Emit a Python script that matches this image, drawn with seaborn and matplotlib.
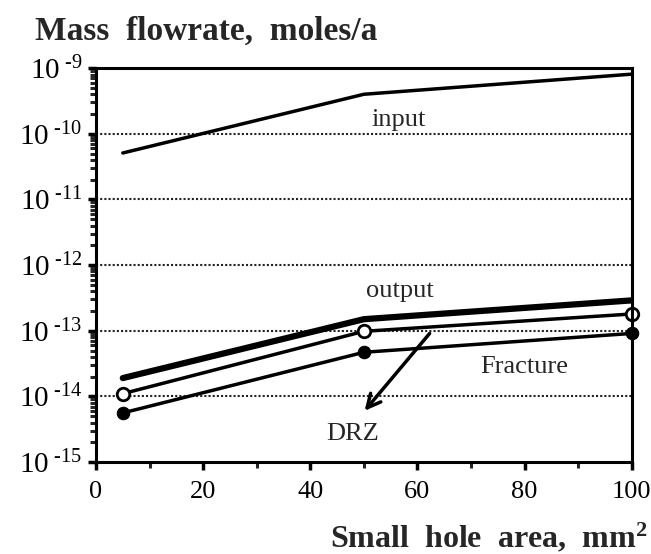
import math
import matplotlib
matplotlib.use("Agg")
import matplotlib.pyplot as plt
import matplotlib.ticker as mticker
import seaborn as sns
import pandas as pd

hole_area = [5, 50, 100]
input_flow = [5.1e-11, 4.0e-10, 8.1e-10]
output_flow = [1.9e-14, 1.5e-13, 2.9e-13]
drz_flow = [1.1e-14, 9.8e-14, 1.8e-13]
fracture_flow = [5.6e-15, 4.7e-14, 9.1e-14]

sns.set_style("ticks")
plt.rcParams['font.family'] = ['Liberation Serif', 'DejaVu Serif']
plt.rcParams['mathtext.fontset'] = 'custom'
plt.rcParams['mathtext.rm'] = 'Liberation Serif'
plt.rcParams['mathtext.it'] = 'Liberation Serif:italic'
plt.rcParams['mathtext.bf'] = 'Liberation Serif:bold'

df = pd.DataFrame({"area": hole_area, "input": input_flow, "output": output_flow,
                   "DRZ": drz_flow, "Fracture": fracture_flow})

fig = plt.figure(figsize=(6.51, 5.54), dpi=100)
ax = fig.add_axes([0.1475, 0.166, 0.823, 0.711])

sns.lineplot(data=df, x="area", y="input", ax=ax, color="black", lw=2.5)
sns.lineplot(data=df, x="area", y="output", ax=ax, color="black", lw=4.5)
sns.lineplot(data=df, x="area", y="DRZ", ax=ax, color="black", lw=2.5,
             marker="o", markersize=9, markerfacecolor="white",
             markeredgecolor="black", markeredgewidth=2, clip_on=False)
sns.lineplot(data=df, x="area", y="Fracture", ax=ax, color="black", lw=2.5,
             marker="o", markersize=9, markerfacecolor="black",
             markeredgecolor="black", clip_on=False)

ax.set_yscale("log")
ax.set_ylim(1e-15, 1e-9)
ax.set_xlim(0, 100)

# decade gridlines
for e in range(-14, -9):
    ax.axhline(10.0 ** e, color="#222222", lw=1.5, ls=(0, (1, 1)), zorder=0)

ax.yaxis.set_major_locator(mticker.LogLocator(base=10, numticks=10))
ax.yaxis.set_minor_locator(mticker.LogLocator(base=10, subs=range(2, 10), numticks=100))
ax.yaxis.set_minor_formatter(mticker.NullFormatter())
ax.yaxis.set_major_formatter(mticker.FuncFormatter(
    lambda v, p: r"$\mathregular{10}^{\ \text{-%d}}$" % abs(round(math.log10(v)))))
ax.xaxis.set_major_locator(mticker.MultipleLocator(20))
ax.xaxis.set_minor_locator(mticker.MultipleLocator(10))

ax.tick_params(axis="both", which="major", direction="out", length=6, width=2.5,
               colors="black")
ax.tick_params(axis="both", which="minor", direction="out", length=4.5, width=2.2)
ax.tick_params(axis="x", which="major", pad=8, labelsize=19)
ax.tick_params(axis="y", which="major", pad=4, labelsize=21)
for s in ax.spines.values():
    s.set_linewidth(2.2)
    s.set_color("black")

ax.set_xlabel("")
ax.set_ylabel("")

ax.text(56.5, 1.32e-10, "input", fontsize=19, ha="center", va="baseline")
ax.text(56.7, 3.3e-13, "output", fontsize=19, ha="center", va="baseline")
ax.text(80, 2.3e-14, "Fracture", fontsize=19, ha="center", va="baseline")
ax.text(47.8, 2.2e-15, "DRZ", fontsize=19, ha="center", va="baseline")
ax.annotate("", xy=(49.8, 5.6e-15), xytext=(62.6, 9.8e-14),
            arrowprops=dict(arrowstyle="->", lw=2.5, color="black",
                            mutation_scale=24))

fig.text(0.054, 0.928, "Mass  flowrate,  moles/a", fontsize=24,
         fontweight="bold", va="baseline")
fig.text(0.995, 0.011, "Small  hole  area,  mm$^{\\mathregular{2}}$", fontsize=23,
         fontweight="bold", ha="right", va="baseline")

fig.savefig("out.png", dpi=100)
